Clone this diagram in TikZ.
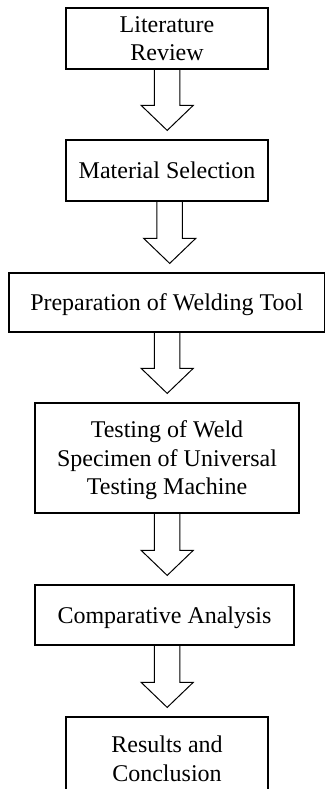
\documentclass[tikz,border=0pt]{standalone}
\usepackage{fontspec}
\setmainfont{Liberation Serif}
\usetikzlibrary{calc}
\tikzset{
  stepbox/.style={draw=black, line width=1.2pt, inner sep=0pt, align=center,
    text depth=0pt, font=\fontsize{24}{28.5}\selectfont},
  arrowline/.style={draw=black, line width=1pt, line join=miter}
}
\newcommand{\flowarrow}[3]{%
  \path (#3,0) coordinate (tmpx);
  \draw[arrowline]
    ($(tmpx |- #1.south)+(-12.75,0)$) --
    ($(tmpx |- #2.north)+(-12.75,-34)$) --
    ($(tmpx |- #2.north)+(-26,-34)$) --
    ($(tmpx |- #2.north)+(0,-9)$) --
    ($(tmpx |- #2.north)+(26,-34)$) --
    ($(tmpx |- #2.north)+(12.75,-34)$) --
    ($(tmpx |- #1.south)+(12.75,0)$);
}
\begin{document}
\begin{tikzpicture}[x=1pt, y=-1pt]
  \useasboundingbox (0,0) rectangle (325,789);
  \clip (0,0) rectangle (325,789);
  \node[stepbox, minimum width=202pt, minimum height=61pt] (B1) at (167,38.5) {Literature\\Review};
  \node[stepbox, minimum width=202pt, minimum height=61pt] (B2) at (167,170.5) {Material Selection};
  \node[stepbox, minimum width=315.5pt, minimum height=59pt] (B3) at (166.75,302.5) {Preparation of Welding Tool};
  \node[stepbox, minimum width=264pt, minimum height=110pt] (B4) at (167,458) {Testing of Weld\\Specimen of Universal\\Testing Machine};
  \node[stepbox, minimum width=259pt, minimum height=60pt] (B5) at (164.5,615) {Comparative Analysis};
  \node[stepbox, minimum width=202pt, minimum height=83.5pt] (B6) at (167,758.75) {Results and\\Conclusion};
  \flowarrow{B1}{B2}{167.2}
  \flowarrow{B2}{B3}{169.7}
  \flowarrow{B3}{B4}{167.2}
  \flowarrow{B4}{B5}{167.2}
  \flowarrow{B5}{B6}{167.2}
\end{tikzpicture}
\end{document}
